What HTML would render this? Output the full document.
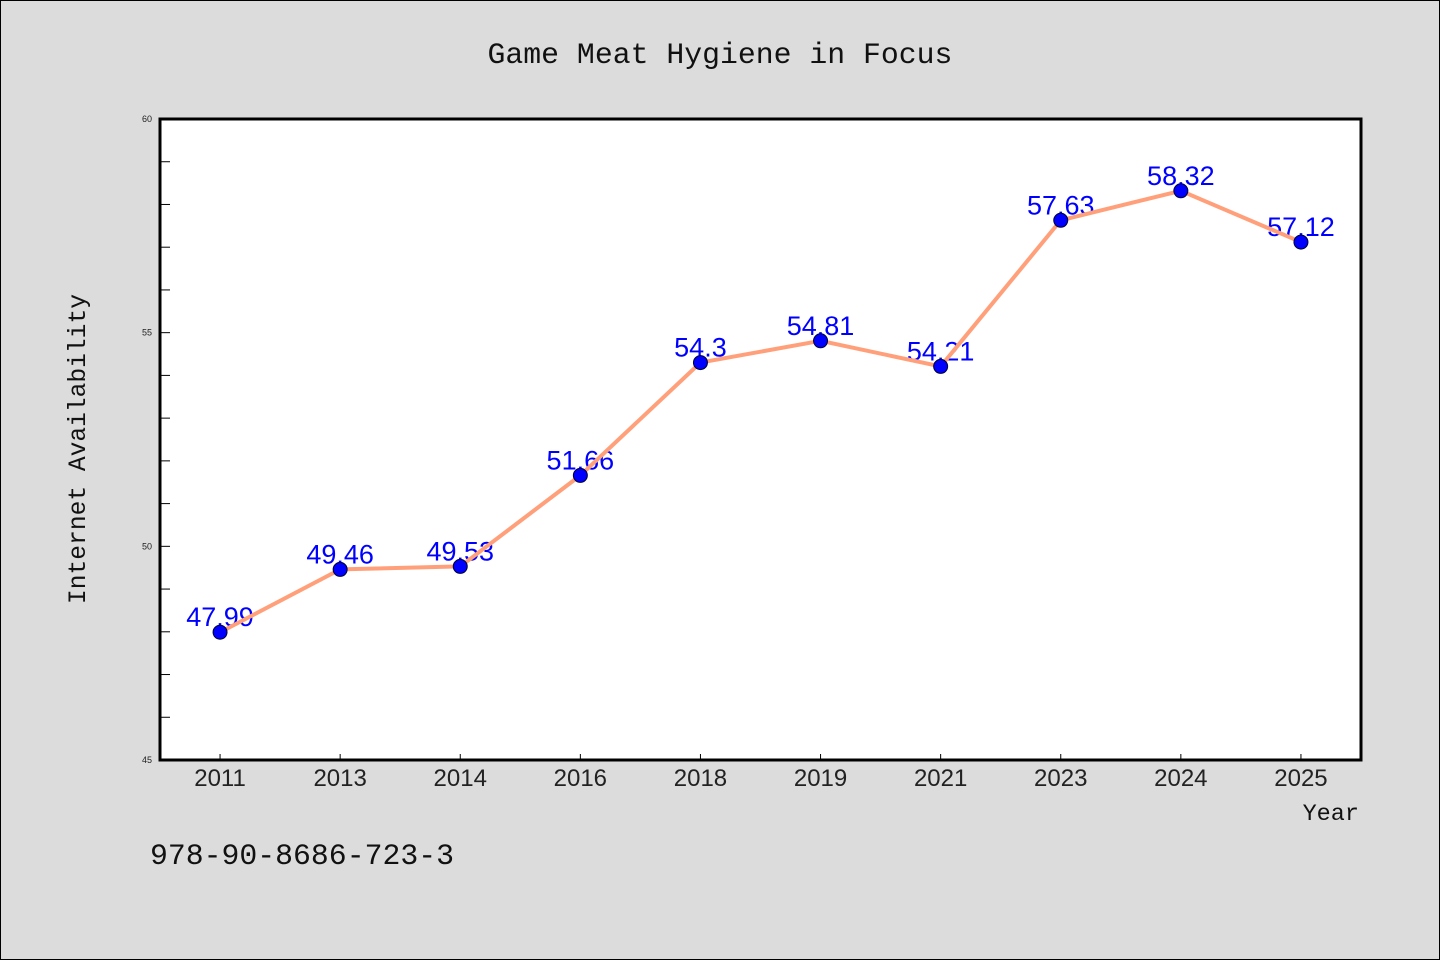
<!DOCTYPE html>
<html><head><meta charset="utf-8"><style>
body{margin:0;background:#dcdcdc;}
svg{display:block}
</style></head><body>
<svg width="1440" height="960" xmlns="http://www.w3.org/2000/svg">
<rect x="0.5" y="0.5" width="1439" height="959" fill="#dcdcdc" stroke="#000" stroke-width="1"/>
<text x="720" y="63" text-anchor="middle" font-family="Liberation Mono, monospace" font-size="29.8" fill="#111">Game Meat Hygiene in Focus</text>
<rect x="160" y="119" width="1201" height="641" fill="#fff"/>
<g id="yticks"></g>
<g id="xticks"></g>
<g id="series"></g>
<rect x="160" y="119" width="1201" height="641" fill="none" stroke="#000" stroke-width="3"/>
<text transform="translate(85,449) rotate(-90)" text-anchor="middle" font-family="Liberation Mono, monospace" font-size="24.6" fill="#111">Internet Availability</text>
<text x="1359" y="820" text-anchor="end" font-family="Liberation Mono, monospace" font-size="23.5" fill="#111">Year</text>
<text x="150" y="864" font-family="Liberation Mono, monospace" font-size="29.8" fill="#111">978-90-8686-723-3</text>
</svg>
<script>
const categories=["2011","2013","2014","2016","2018","2019","2021","2023","2024","2025"];
const values=[47.99,49.46,49.53,51.66,54.3,54.81,54.21,57.63,58.32,57.12];
const valueLabels=["47.99","49.46","49.53","51.66","54.3","54.81","54.21","57.63","58.32","57.12"];
const yTickLabels=[45,50,55,60];
const yMin=45,yMax=60;
const NS="http://www.w3.org/2000/svg";
const L=160,R=1361,T=119,B=760;
function y(v){return B-(v-yMin)/(yMax-yMin)*(B-T);}
function x(i){return L+(R-L)/categories.length*(i+0.5);}
function mk(tag,attrs,parent,txt){const e=document.createElementNS(NS,tag);for(const k in attrs)e.setAttribute(k,attrs[k]);if(txt!==undefined)e.textContent=txt;parent.appendChild(e);return e;}
const yt=document.getElementById('yticks');
for(let v=yMin+1;v<yMax;v++){
 const t=mk('line',{x1:L,x2:L+10,y1:y(v),y2:y(v),stroke:'#000','stroke-width':1},yt);
 
 
}
yTickLabels.forEach(v=>{
 const t=mk('text',{x:152,y:y(v)+3,'text-anchor':'end','font-family':'Liberation Sans, sans-serif','font-size':9,fill:'#222'},yt,String(v));
 
 
});
const xt=document.getElementById('xticks');
categories.forEach((c,i)=>{
 const t=mk('line',{x1:x(i),x2:x(i),y1:B,y2:B-6,stroke:'#000','stroke-width':1},xt);
 
 
 const l=mk('text',{x:x(i),y:786,'text-anchor':'middle','font-family':'Liberation Sans, sans-serif','font-size':24,fill:'#222'},xt,c);
 
 
});
const s=document.getElementById('series');
values.forEach((v,i)=>{
 const t=mk('text',{x:x(i),y:y(v)-6,'text-anchor':'middle','font-family':'Liberation Sans, sans-serif','font-size':27,fill:'#0000ff'},s,valueLabels[i]);
 
 
});
const line=mk('polyline',{points:values.map((v,i)=>x(i)+','+y(v)).join(' '),fill:'none',stroke:'#ffa07a','stroke-width':4,'stroke-linejoin':'round'},s);


values.forEach((v,i)=>{
 const c=mk('circle',{cx:x(i),cy:y(v),r:7,fill:'#0000ff',stroke:'#000033','stroke-width':1},s);
 
 
});
</script>
</body></html>
